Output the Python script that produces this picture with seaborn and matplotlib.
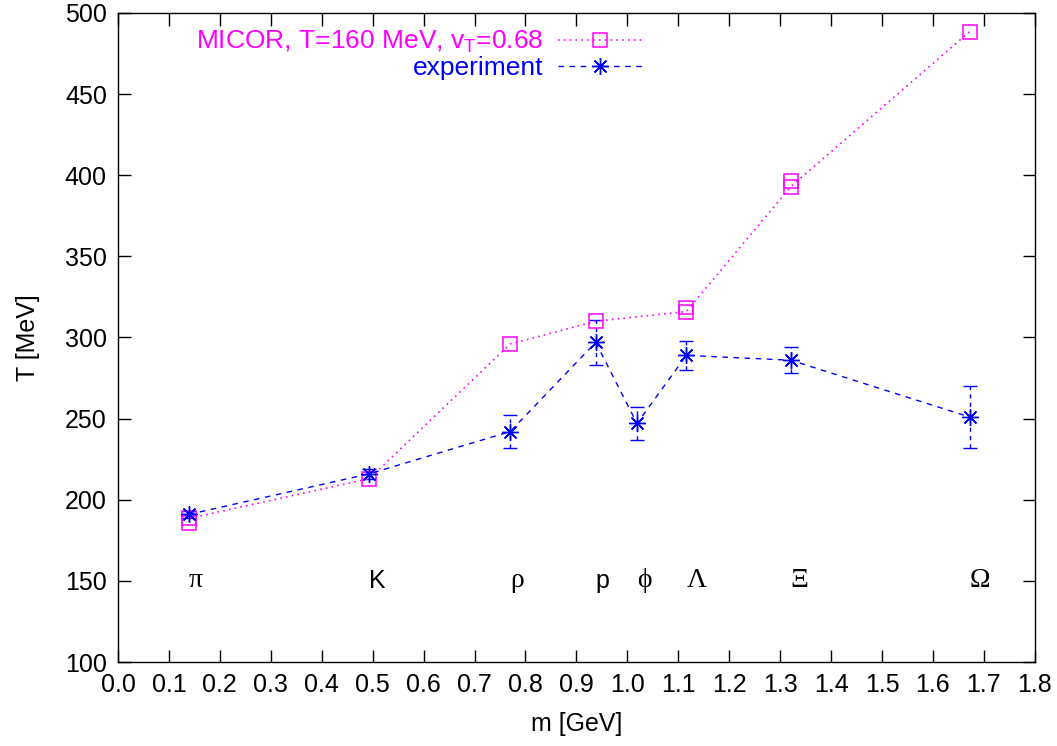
import numpy as np
import pandas as pd
import matplotlib
matplotlib.use("Agg")
import matplotlib.pyplot as plt
import seaborn as sns

# ---- data ----
particles = ["π", "K", "ρ", "p", "ϕ", "Λ", "Ξ", "Ω"]
masses = [0.1396, 0.4937, 0.770, 0.938, 1.019, 1.116, 1.321, 1.672]

micor_T = [188.5, 213, 296, 310, 316, 393, 488.5]
micor_m = [0.1396, 0.4937, 0.770, 0.938, 1.116, 1.321, 1.672]
# second (anti-particle) MICOR values at the same masses
micor2_m = [0.1396, 1.116, 1.321]
micor2_T = [185.5, 318.5, 396.5]

exp_m = [0.1396, 0.4937, 0.770, 0.938, 1.019, 1.116, 1.321, 1.672]
exp_T = [191, 216, 242, 297, 247, 289, 286, 251]
exp_err = [2, 3, 10, 14, 10, 9, 8, 19]

label_y = 150

sns.set_theme(style="ticks")
plt.rcParams["font.family"] = ["Liberation Sans", "DejaVu Sans"]
plt.rcParams["text.color"] = "black"
plt.rcParams["axes.labelcolor"] = "black"

fig = plt.figure(figsize=(10.57, 7.46), dpi=100)
ax = fig.add_axes([0.1116, 0.1126, 0.979 - 0.1116, 0.9826 - 0.1126])

MAG = "#ff00ff"
BLU = "#0000ff"
FS = 18

df_mic = pd.DataFrame({"m": micor_m, "T": micor_T})
df_exp = pd.DataFrame({"m": exp_m, "T": exp_T, "err": exp_err})

# experiment error bars (dashed, with caps)
eb = ax.errorbar(df_exp["m"], df_exp["T"], yerr=df_exp["err"], fmt="none",
                 ecolor=BLU, elinewidth=1.0, capsize=5, capthick=1.0, zorder=2)
for lc in eb[2]:
    lc.set_linestyle((0, (3, 3)))

sns.lineplot(data=df_mic, x="m", y="T", ax=ax, color=MAG, linestyle=(0, (1, 2.5)),
             linewidth=1.2, marker="s", markersize=10, markerfacecolor="none",
             markeredgecolor=MAG, markeredgewidth=1.1, sort=False,
             label="MICOR, T=160 MeV, v$_\\mathregular{T}$=0.68", zorder=3)
sns.scatterplot(x=micor2_m, y=micor2_T, ax=ax, marker="s", s=100,
                facecolor="none", edgecolor=MAG, linewidth=1.1, zorder=3, legend=False)

sns.lineplot(data=df_exp, x="m", y="T", ax=ax, color=BLU, linestyle=(0, (4, 4)),
             linewidth=1.0, marker=(8, 2, 0), markersize=12,
             markeredgecolor=BLU, markeredgewidth=1.0, sort=False,
             label="experiment", zorder=4)

for name, m in zip(particles, masses):
    if name in ("K", "p"):
        fam, fs = ["Liberation Sans", "DejaVu Sans"], FS
    else:
        fam, fs = ["Liberation Serif", "DejaVu Serif"], 20
    ax.text(m, label_y, name, fontsize=fs, ha="left", va="center",
            family=fam, color="black")

ax.set_xlim(0.0, 1.8)
ax.set_ylim(100, 500)
ax.set_xticks(np.round(np.arange(0, 1.81, 0.1), 1))
ax.set_xticklabels([f"{v:.1f}" for v in np.arange(0, 1.81, 0.1)])
ax.set_yticks(np.arange(100, 501, 50))
ax.tick_params(direction="in", length=9, width=1.0, top=True, right=True,
               labelsize=FS, colors="black", labelcolor="black", pad=8)
for s in ax.spines.values():
    s.set_color("black")
    s.set_linewidth(1.0)
ax.set_xlabel("m [GeV]", fontsize=FS, labelpad=11, color="black")
ax.set_ylabel("T [MeV]", fontsize=FS, labelpad=18, color="black")

leg = ax.legend(loc="upper left", bbox_to_anchor=(0.068, 1.0), markerfirst=False,
                frameon=False, fontsize=19, handlelength=3.2, labelspacing=0.02,
                handletextpad=0.55, borderaxespad=0.2)
for t, c in zip(leg.get_texts(), [MAG, BLU]):
    t.set_color(c)

fig.savefig("out.png", dpi=100)
